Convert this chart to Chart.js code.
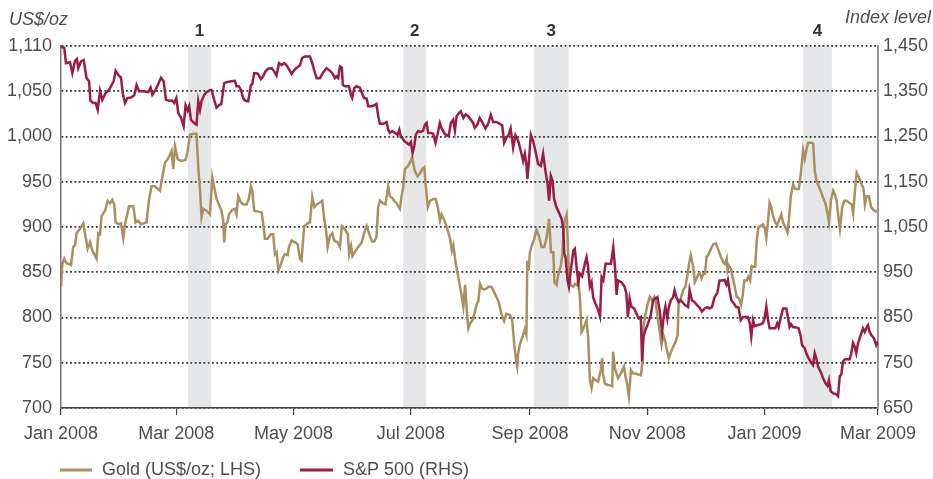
<!DOCTYPE html>
<html>
<head>
<meta charset="utf-8">
<script src="https://cdn.jsdelivr.net/npm/chart.js@4"></script>
<style>
  html, body { margin: 0; padding: 0; background: #fff; }
  #chart { display: block; }
</style>
</head>
<body>
<canvas id="chart" width="933" height="479"></canvas>
<script>
// x values are days since 1 Jan 2008
const monthLabels = ['Jan 2008', 'Mar 2008', 'May 2008', 'Jul 2008', 'Sep 2008', 'Nov 2008', 'Jan 2009', 'Mar 2009'];
const monthDays = [0, 60, 121, 182, 244, 305, 366, 425];

const goldTicks = ['700', '750', '800', '850', '900', '950', '1,000', '1,050', '1,110'];
const spTicks = ['650', '750', '850', '950', '1,050', '1,150', '1,250', '1,350', '1,450'];

// shaded episodes 1-4 (start day, end day)
const bandLabels = ['1', '2', '3', '4'];
const bandStart = [66, 178, 246, 386];
const bandEnd = [78, 190, 264, 401];

const goldDay = [0, 0.7, 1.7, 2.9, 5.2, 6.4, 7.3, 8.1, 9.9, 11.6, 12.8, 13.9, 15.1, 16.3, 18.5, 19.4, 20.3, 21.1, 22.9, 24.3,
  25.5, 26.7, 27.7, 28.4, 30.2, 31.2, 32.4, 33.3, 35.4, 37.6, 38.8, 40.2, 41.6, 42.8, 44.5, 45.7, 47.1, 48.9, 50.3, 51.5,
  52.7, 54.1, 55.5, 56.7, 57.5, 58.4, 59.3, 60.7, 62.4, 64.8, 65.9, 67.1, 68.8, 70.5, 71.4, 72.3, 73.1, 74.0, 75.7, 77.5,
  78.7, 79.7, 80.9, 82.1, 83.5, 84.4, 84.9, 85.6, 86.6, 87.4, 89.1, 90.5, 91.3, 92.2, 93.6, 94.8, 96.5, 97.7, 98.8, 99.5,
  100.5, 102.6, 104.4, 105.2, 106.1, 107.4, 109.2, 110.4, 111.3, 112.2, 113.1, 114.4, 115.6, 116.5, 117.9, 118.6, 120.0, 121.8, 123.1, 124.3,
  125.1, 126.5, 128.3, 129.5, 130.7, 131.8, 133.0, 134.7, 135.9, 137.0, 137.7, 138.7, 139.9, 141.1, 142.2, 143.9, 145.1, 146.1, 147.5, 149.2,
  149.9, 150.9, 151.6, 153.0, 154.6, 156.4, 157.8, 159.0, 159.8, 160.7, 161.9, 163.0, 164.1, 165.0, 165.9, 167.6, 168.8, 170.2, 171.1, 172.3,
  173.3, 174.6, 176.3, 177.1, 178.0, 178.9, 180.3, 181.5, 182.7, 184.0, 185.5, 186.7, 187.9, 189.0, 189.7, 190.8, 192.0, 193.7, 194.9, 196.0,
  197.2, 198.0, 199.5, 201.2, 202.4, 203.3, 204.1, 205.4, 206.8, 207.6, 208.5, 209.3, 210.2, 211.1, 211.9, 212.8, 214.0, 215.0, 216.3, 217.1,
  218.0, 219.0, 220.1, 221.3, 222.5, 223.9, 225.3, 226.5, 227.7, 229.1, 230.5, 231.7, 233.5, 234.7, 235.8, 236.6, 237.3, 237.8, 238.7, 240.4,
  241.3, 242.1, 242.6, 243.3, 243.9, 244.7, 246.1, 247.4, 248.6, 250.0, 251.4, 252.6, 253.9, 254.9, 256.1, 256.7, 257.8, 258.7, 260.1, 260.8,
  261.8, 262.5, 263.0, 263.5, 264.2, 265.2, 266.5, 267.3, 268.2, 269.1, 269.9, 270.8, 272.2, 273.4, 274.2, 275.1, 276.0, 276.8, 278.0, 279.4,
  280.8, 281.5, 282.0, 282.9, 283.7, 285.5, 286.7, 287.2, 288.1, 289.0, 289.8, 291.2, 292.9, 293.6, 294.7, 295.4, 296.5, 297.7, 298.9, 300.3,
  301.7, 302.3, 303.0, 304.0, 305.4, 306.3, 307.5, 308.6, 309.2, 310.3, 311.5, 312.4, 313.3, 314.1, 315.0, 316.2, 317.3, 318.5, 319.7, 320.8,
  321.3, 322.4, 323.6, 324.8, 325.9, 326.6, 327.6, 328.9, 329.7, 330.6, 331.5, 332.3, 333.2, 334.1, 335.0, 335.8, 336.7, 338.1, 339.3, 340.6,
  341.9, 343.3, 344.5, 345.4, 346.3, 346.8, 347.5, 348.5, 349.3, 350.3, 351.5, 352.7, 353.8, 354.5, 355.5, 356.7, 357.6, 358.5, 359.3, 360.2,
  361.1, 361.9, 362.8, 363.9, 365.1, 366.0, 366.9, 367.8, 368.6, 369.5, 370.3, 371.6, 372.6, 373.8, 374.7, 375.6, 376.8, 377.9, 378.6, 379.6,
  380.8, 382.0, 383.8, 384.8, 386.0, 386.9, 387.8, 388.7, 390.4, 391.3, 392.1, 393.0, 394.8, 396.5, 397.7, 398.8, 399.5, 400.5, 401.7, 402.6,
  403.5, 404.3, 405.2, 406.4, 407.4, 408.7, 409.9, 411.3, 412.1, 413.0, 413.9, 415.1, 416.5, 417.4, 418.2, 419.1, 420.3, 421.4, 422.6, 423.8,
  424.9];
const goldPrice = [834, 859, 865, 860, 858, 878, 880, 893, 898, 904, 889, 876, 883, 874, 865, 893, 892, 912, 918, 929,
  926, 930, 925, 905, 903, 904, 888, 903, 923, 923, 905, 907, 903, 904, 905, 929, 945, 945, 942, 940,
  955, 971, 975, 980, 984, 964, 989, 975, 973, 974, 984, 1002, 1003, 1003, 966, 942, 911, 920, 918, 914,
  955, 944, 931, 925, 918, 907, 883, 903, 905, 914, 919, 920, 914, 934, 927, 925, 925, 931, 945, 940,
  918, 917, 916, 903, 887, 887, 892, 892, 870, 872, 852, 859, 867, 870, 869, 878, 885, 883, 881, 865,
  863, 901, 904, 905, 933, 922, 925, 927, 929, 907, 900, 878, 890, 893, 885, 883, 878, 901, 898, 892,
  870, 879, 868, 873, 878, 883, 894, 901, 896, 890, 884, 884, 889, 922, 929, 926, 925, 945, 934, 932,
  929, 926, 920, 933, 944, 964, 967, 971, 977, 962, 956, 959, 964, 966, 947, 922, 929, 931, 931, 922,
  907, 914, 907, 896, 887, 874, 880, 859, 843, 834, 823, 812, 836, 808, 788, 793, 797, 804, 815, 818,
  837, 832, 831, 832, 834, 834, 828, 823, 817, 804, 796, 804, 803, 797, 770, 755, 746, 760, 770, 781,
  787, 781, 863, 852, 872, 878, 886, 897, 890, 878, 878, 888, 909, 872, 872, 839, 836, 848, 858, 870,
  905, 911, 914, 892, 848, 836, 834, 837, 836, 841, 823, 784, 790, 797, 779, 731, 722, 733, 731, 729,
  742, 755, 737, 727, 726, 725, 724, 762, 744, 738, 733, 738, 746, 735, 724, 713, 742, 738, 738, 737,
  736, 748, 790, 803, 817, 823, 819, 823, 819, 801, 784, 770, 781, 776, 766, 755, 762, 768, 773, 781,
  819, 821, 830, 834, 847, 858, 869, 856, 839, 843, 848, 849, 843, 848, 848, 867, 869, 876, 881, 882,
  875, 867, 861, 859, 865, 852, 857, 854, 845, 836, 823, 821, 814, 823, 841, 841, 845, 841, 857, 856,
  856, 885, 900, 901, 903, 900, 888, 907, 927, 922, 913, 905, 902, 909, 914, 905, 900, 894, 907, 933,
  947, 942, 942, 958, 985, 975, 986, 993, 993, 992, 962, 951, 942, 932, 926, 914, 905, 929, 940, 936,
  929, 913, 898, 922, 929, 929, 927, 925, 915, 940, 960, 955, 947, 943, 925, 934, 934, 922, 919, 917,
  918];

const spDay = [0, 1.7, 2.6, 4.7, 5.9, 7.3, 8.3, 9.0, 10.4, 11.8, 13.3, 14.6, 15.3, 16.8, 18.0, 19.1, 20.3, 21.5, 23.2, 25.0,
  26.0, 27.4, 28.4, 29.8, 31.2, 32.2, 33.3, 34.5, 36.4, 38.1, 39.3, 40.6, 42.8, 45.4, 46.6, 47.5, 49.2, 50.6, 52.0, 53.4,
  54.6, 56.3, 57.9, 58.9, 60.0, 61.0, 62.4, 63.8, 64.8, 65.9, 66.7, 67.6, 69.7, 70.5, 71.4, 72.3, 73.1, 74.5, 75.7, 77.5,
  78.3, 79.7, 80.9, 82.1, 83.4, 84.9, 86.1, 88.7, 90.5, 91.3, 92.5, 93.6, 94.8, 96.0, 97.4, 98.8, 99.5, 100.5, 101.8, 102.6,
  104.0, 105.2, 106.4, 107.8, 109.6, 110.9, 112.1, 113.4, 114.8, 116.1, 117.4, 118.2, 119.1, 120.0, 121.3, 122.6, 124.3, 125.5, 126.9, 129.5,
  130.7, 131.8, 133.0, 134.7, 136.4, 138.2, 139.9, 141.1, 142.5, 143.3, 144.2, 145.1, 146.1, 146.6, 147.8, 149.8, 150.8, 151.5, 152.5, 153.7,
  155.5, 156.3, 157.7, 159.0, 159.8, 161.6, 163.0, 164.1, 165.0, 165.9, 167.6, 169.4, 170.2, 171.1, 172.3, 173.7, 175.1, 176.0, 176.8, 177.5,
  178.6, 179.8, 181.0, 182.0, 182.9, 183.8, 184.6, 185.8, 187.2, 188.4, 189.3, 190.2, 191.0, 192.4, 193.6, 194.8, 195.8, 197.1, 197.9, 199.3,
  200.5, 201.7, 202.8, 204.0, 204.9, 205.8, 207.0, 208.0, 209.3, 210.5, 211.8, 213.2, 214.4, 215.2, 216.6, 217.8, 219.1, 220.8, 222.2, 223.6,
  224.8, 226.5, 228.2, 229.5, 230.5, 231.7, 232.9, 233.9, 235.2, 236.4, 237.8, 239.2, 240.4, 241.3, 242.1, 242.6, 243.3, 244.4, 245.6, 246.8,
  248.2, 249.6, 250.8, 252.0, 253.1, 253.9, 254.8, 255.7, 256.5, 257.8, 259.0, 260.4, 261.2, 261.8, 262.5, 263.5, 264.2, 265.2, 266.5, 267.3,
  268.2, 269.1, 269.9, 271.1, 272.5, 273.4, 274.2, 275.1, 276.0, 276.8, 278.0, 279.1, 280.4, 281.2, 282.1, 283.3, 284.7, 286.1, 287.3, 288.2,
  289.0, 289.8, 291.5, 293.2, 294.1, 294.9, 295.8, 296.7, 298.1, 299.3, 300.5, 301.6, 302.3, 303.0, 304.0, 305.4, 306.8, 308.0, 309.2, 310.2,
  311.4, 312.7, 313.7, 314.4, 315.4, 316.1, 317.2, 318.4, 319.2, 320.1, 321.3, 322.4, 323.6, 324.8, 326.2, 327.0, 328.2, 329.6, 331.0, 332.2,
  333.4, 334.8, 336.2, 337.4, 338.6, 340.0, 341.4, 342.6, 343.8, 345.2, 346.1, 346.9, 347.8, 348.7, 350.1, 351.3, 352.5, 353.6, 354.8, 356.0,
  357.4, 358.3, 359.1, 360.0, 360.8, 362.2, 363.9, 365.1, 366.0, 366.9, 367.8, 368.6, 370.3, 371.6, 372.6, 373.3, 374.3, 375.6, 377.3, 378.1,
  379.0, 379.8, 380.7, 382.5, 383.7, 384.7, 385.5, 386.9, 387.7, 388.9, 390.0, 391.2, 392.1, 392.9, 393.8, 394.7, 395.5, 396.4, 397.6, 398.7,
  399.5, 400.4, 401.6, 403.3, 404.2, 405.1, 405.9, 406.8, 408.0, 410.3, 411.1, 412.0, 412.9, 413.7, 414.6, 416.0, 417.2, 418.1, 418.9, 419.8,
  420.7, 421.5, 422.9, 424.1, 425.0];
const spIndex = [1448, 1446, 1412, 1414, 1390, 1417, 1421, 1401, 1416, 1419, 1379, 1372, 1329, 1324, 1324, 1309, 1351, 1331, 1346, 1353,
  1361, 1372, 1395, 1386, 1380, 1344, 1324, 1335, 1336, 1341, 1364, 1350, 1350, 1348, 1358, 1342, 1353, 1366, 1380, 1372,
  1331, 1329, 1329, 1324, 1335, 1302, 1292, 1273, 1319, 1307, 1317, 1287, 1278, 1276, 1328, 1309, 1328, 1342, 1348, 1353,
  1353, 1331, 1314, 1319, 1322, 1368, 1370, 1372, 1373, 1361, 1361, 1353, 1334, 1329, 1328, 1364, 1366, 1390, 1390, 1388,
  1377, 1383, 1394, 1400, 1401, 1394, 1385, 1412, 1408, 1412, 1407, 1401, 1395, 1388, 1397, 1402, 1407, 1424, 1427, 1427,
  1412, 1395, 1379, 1379, 1392, 1401, 1395, 1390, 1379, 1383, 1379, 1405, 1402, 1364, 1361, 1361, 1342, 1335, 1357, 1361,
  1358, 1348, 1335, 1334, 1317, 1317, 1319, 1322, 1295, 1278, 1278, 1282, 1265, 1258, 1262, 1258, 1254, 1265, 1249, 1247,
  1240, 1236, 1232, 1238, 1214, 1229, 1254, 1262, 1260, 1263, 1276, 1280, 1258, 1258, 1256, 1236, 1254, 1280, 1269, 1258,
  1253, 1251, 1280, 1287, 1263, 1295, 1302, 1306, 1291, 1299, 1295, 1287, 1280, 1269, 1276, 1291, 1282, 1268, 1278, 1298,
  1282, 1282, 1278, 1275, 1236, 1247, 1254, 1268, 1225, 1253, 1241, 1218, 1196, 1212, 1189, 1156, 1189, 1254, 1240, 1218,
  1189, 1185, 1212, 1174, 1145, 1108, 1163, 1152, 1112, 1093, 1082, 1068, 1049, 990, 983, 932, 918, 954, 998, 1002,
  961, 928, 947, 941, 969, 983, 961, 918, 928, 895, 881, 870, 852, 939, 932, 969, 969, 969, 1005, 961,
  900, 932, 928, 918, 903, 851, 892, 874, 870, 859, 848, 851, 753, 808, 822, 837, 855, 888, 892, 895,
  866, 819, 859, 874, 848, 870, 888, 895, 910, 895, 884, 888, 882, 877, 873, 911, 888, 884, 877, 872,
  863, 870, 873, 870, 873, 895, 904, 932, 932, 933, 923, 933, 909, 888, 881, 873, 872, 844, 851, 851,
  851, 837, 808, 844, 831, 833, 835, 837, 848, 874, 845, 826, 826, 826, 837, 829, 848, 870, 870, 851,
  829, 835, 829, 828, 826, 811, 789, 782, 771, 760, 752, 745, 771, 760, 742, 734, 727, 716, 705, 699,
  712, 687, 683, 680, 676, 720, 724, 753, 758, 758, 771, 794, 785, 771, 793, 811, 826, 818, 826, 833,
  818, 811, 804, 789, 797];

const GOLD = '#a8915f';
const SP = '#9b1c45';
const TEXT = '#4d4d4d';
const FONT = '"Liberation Sans", Arial, sans-serif';

// grey bands behind the grid, numbers above them
const bandsPlugin = {
  id: 'bands',
  beforeDraw(chart) {
    const { ctx, chartArea, scales } = chart;
    ctx.save();
    ctx.fillStyle = '#e6e7e9';
    for (let i = 0; i < bandStart.length; i++) {
      const x1 = scales.x.getPixelForValue(bandStart[i]);
      const x2 = scales.x.getPixelForValue(bandEnd[i]);
      ctx.fillRect(x1, chartArea.top, x2 - x1, chartArea.bottom - chartArea.top);
    }
    ctx.restore();
  },
  afterDraw(chart) {
    const { ctx, scales } = chart;
    ctx.save();
    ctx.fillStyle = '#333';
    ctx.font = 'bold 17px ' + FONT;
    ctx.textAlign = 'center';
    ctx.textBaseline = 'middle';
    for (let i = 0; i < bandStart.length; i++) {
      const x = scales.x.getPixelForValue((bandStart[i] + bandEnd[i]) / 2);
      ctx.fillText(bandLabels[i], x, 31);
    }

    // axis titles
    ctx.fillStyle = TEXT;
    ctx.font = 'italic 18px ' + FONT;
    ctx.textAlign = 'left';
    ctx.fillText('US$/oz', 9, 20);
    ctx.textAlign = 'right';
    ctx.fillText('Index level', 931, 18);

    // legend
    ctx.font = '18px ' + FONT;
    ctx.textAlign = 'left';
    ctx.lineWidth = 3;
    ctx.strokeStyle = GOLD;
    ctx.beginPath(); ctx.moveTo(60, 470); ctx.lineTo(92, 470); ctx.stroke();
    ctx.fillText('Gold (US$/oz; LHS)', 102, 470);
    ctx.strokeStyle = SP;
    ctx.beginPath(); ctx.moveTo(300, 470); ctx.lineTo(333, 470); ctx.stroke();
    ctx.fillText('S&P 500 (RHS)', 343, 470);
    ctx.restore();
  }
};

new Chart(document.getElementById('chart'), {
  type: 'line',
  data: {
    datasets: [{
      label: 'Gold (US$/oz; LHS)',
      data: goldDay.map((d, i) => ({ x: d, y: goldPrice[i] })),
      borderColor: GOLD,
      backgroundColor: GOLD,
      borderWidth: 2.5,
      pointRadius: 0,
      tension: 0,
      yAxisID: 'yGold',
      order: 2
    }, {
      label: 'S&P 500 (RHS)',
      data: spDay.map((d, i) => ({ x: d, y: spIndex[i] })),
      borderColor: SP,
      backgroundColor: SP,
      borderWidth: 2.5,
      pointRadius: 0,
      tension: 0,
      yAxisID: 'ySP',
      order: 1
    }]
  },
  options: {
    responsive: false,
    animation: false,
    devicePixelRatio: 1,
    layout: { padding: { top: 46, left: 0, right: 0, bottom: 0 } },
    plugins: {
      legend: { display: false },
      tooltip: { enabled: false }
    },
    scales: {
      x: {
        type: 'linear',
        position: 'bottom',
        min: 0,
        max: 425,
        afterBuildTicks: s => { s.ticks = monthDays.map(v => ({ value: v })); },
        afterFit: s => { s.height = 71; },
        ticks: {
          callback: (v, i) => monthLabels[i],
          autoSkip: false,
          maxRotation: 0,
          padding: 8,
          color: TEXT,
          font: { family: FONT, size: 18 }
        },
        grid: { drawOnChartArea: false, drawTicks: true, tickLength: 7, color: '#444', lineWidth: 1.2 },
        border: { color: '#444', width: 1.5 }
      },
      yGold: {
        position: 'left',
        min: 700,
        max: 1100,
        afterFit: s => { s.width = 61; },
        ticks: {
          stepSize: 50,
          callback: (v, i) => goldTicks[i],
          padding: 9,
          color: TEXT,
          font: { family: FONT, size: 18 }
        },
        grid: { drawTicks: false, color: '#333', lineWidth: 1.8 },
        border: { color: '#777', width: 1.5, dash: [1.8, 2.5] }
      },
      ySP: {
        position: 'right',
        min: 650,
        max: 1450,
        afterFit: s => { s.width = 55; },
        ticks: {
          stepSize: 100,
          callback: (v, i) => spTicks[i],
          padding: 5,
          color: TEXT,
          font: { family: FONT, size: 18 }
        },
        grid: { drawOnChartArea: false, drawTicks: false },
        border: { color: '#999', width: 2 }
      }
    }
  },
  plugins: [bandsPlugin]
});
</script>
</body>
</html>
